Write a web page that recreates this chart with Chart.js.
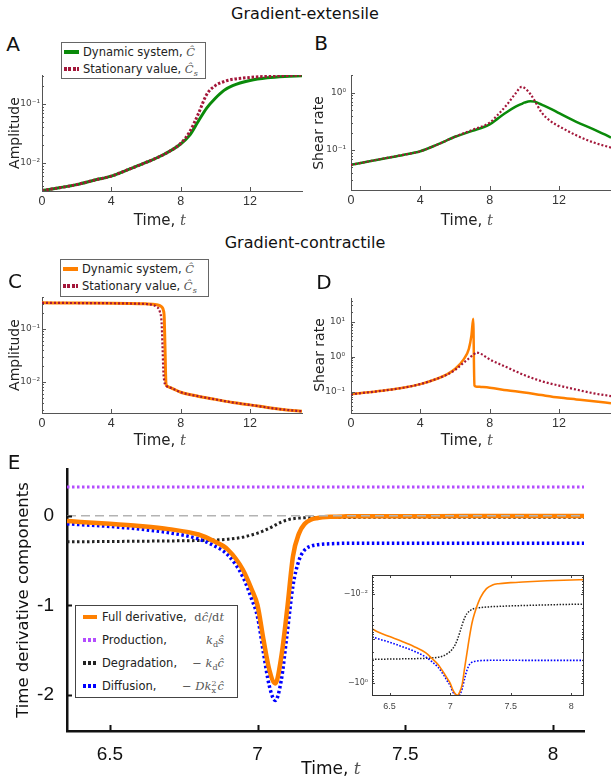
<!DOCTYPE html>
<html>
<head>
<meta charset="utf-8">
<script src="https://cdn.jsdelivr.net/npm/chart.js@4.4.1/dist/chart.umd.min.js"></script>
<style>
  html, body { margin: 0; padding: 0; background: #fff; overflow: hidden; }
  #fig { position: relative; width: 611px; height: 781px; font-family: 'DejaVu Sans', sans-serif; color: #111; }
  #fig canvas { position: absolute; }
  .c { position: absolute; white-space: nowrap; transform: translate(-50%, -50%); z-index: 3; line-height: 1; }
  .rot { transform: translate(-50%, -50%) rotate(-90deg); }
  .title { font-size: 16px; }
  .letter { font-size: 20px; }
  .xl { font-size: 15px; color: #222; }
  .yl { font-size: 14px; color: #222; }
  .m { font-family: 'DejaVu Serif', serif; font-style: italic; color: #555; }
  .r { font-style: normal; }
  sub, sup { line-height: 0; font-size: 70%; }
  .leg { position: absolute; background: #fff; border: 1px solid #666; z-index: 4; font-size: 11.5px; color: #222; }
  .leg .row { position: relative; height: 17px; line-height: 17px; white-space: nowrap; }
  .mk { display: inline-block; width: 15px; height: 4px; vertical-align: middle; margin: 0 4px 2px 2px; }
  .legE .row { height: 23px; line-height: 23px; }
  .legE .mk { width: 14px; margin: 0 5px 2px 7px; }
  .legE .m { position: absolute; right: 13px; top: 0; }
  .ss { display: inline-flex; flex-direction: column; font-size: 8px; line-height: 7px; vertical-align: 4px; font-style: normal; margin-right: 1px; }
</style>
</head>
<body>
<div id="fig">
  <canvas id="cA" width="305" height="166" style="left:0px;top:65px"></canvas>
  <canvas id="cB" width="306" height="166" style="left:305px;top:65px"></canvas>
  <canvas id="cC" width="305" height="168" style="left:0px;top:285px"></canvas>
  <canvas id="cD" width="306" height="168" style="left:305px;top:285px"></canvas>
  <canvas id="cE" width="611" height="321" style="left:0px;top:460px"></canvas>
  <canvas id="cI" width="270" height="160" style="left:330px;top:565px"></canvas>

  <div class="c title" style="left:305px;top:14px">Gradient-extensile</div>
  <div class="c title" style="left:305px;top:243px">Gradient-contractile</div>

  <div class="c letter" style="left:13px;top:44px">A</div>
  <div class="c letter" style="left:321px;top:43px">B</div>
  <div class="c letter" style="left:15px;top:281px">C</div>
  <div class="c letter" style="left:324px;top:282px">D</div>
  <div class="c letter" style="left:14px;top:462px">E</div>

  <div class="c yl rot" style="left:14px;top:133px">Amplitude</div>
  <div class="c yl rot" style="left:318px;top:133px">Shear rate</div>
  <div class="c yl rot" style="left:14px;top:355px">Amplitude</div>
  <div class="c yl rot" style="left:319px;top:355px">Shear rate</div>
  <div class="c rot" style="left:23px;top:600px;font-size:16.5px;color:#111">Time derivative components</div>

  <div class="c xl" style="left:160px;top:220px">Time, <span class="m">t</span></div>
  <div class="c xl" style="left:467px;top:220px">Time, <span class="m">t</span></div>
  <div class="c xl" style="left:160px;top:440px">Time, <span class="m">t</span></div>
  <div class="c xl" style="left:467px;top:440px">Time, <span class="m">t</span></div>
  <div class="c" style="left:331px;top:768px;font-size:17px">Time, <span class="m">t</span></div>

  <div class="leg" style="left:61px;top:42px;width:143px;height:34px;padding-top:1px">
    <div class="row"><span class="mk" style="background:#0a8a0a"></span>Dynamic system, <span class="m">Ĉ</span></div>
    <div class="row"><span class="mk" style="background:repeating-linear-gradient(90deg,#a3173a 0 3px,transparent 3px 4.5px)"></span>Stationary value, <span class="m">Ĉ<sub>s</sub></span></div>
  </div>
  <div class="leg" style="left:60px;top:259px;width:147px;height:35px;padding-top:1px">
    <div class="row"><span class="mk" style="background:#ff8000"></span>Dynamic system, <span class="m">Ĉ</span></div>
    <div class="row"><span class="mk" style="background:repeating-linear-gradient(90deg,#a3173a 0 3px,transparent 3px 4.5px)"></span>Stationary value, <span class="m">Ĉ<sub>s</sub></span></div>
  </div>
  <div class="leg legE" style="left:75px;top:605px;width:161px;height:91px;border-color:#444">
    <div class="row"><span class="mk" style="background:#ff8000"></span>Full derivative, <span class="m"><span class="r">d</span>ĉ<span class="r">/d</span>t</span></div>
    <div class="row"><span class="mk" style="background:repeating-linear-gradient(90deg,#b44dff 0 3px,transparent 3px 5px)"></span>Production,<span class="m">k<sub class="r">d</sub>ŝ</span></div>
    <div class="row"><span class="mk" style="background:repeating-linear-gradient(90deg,#222 0 3px,transparent 3px 5px)"></span>Degradation,<span class="m"><span class="r">−</span> k<sub class="r">d</sub>ĉ</span></div>
    <div class="row"><span class="mk" style="background:repeating-linear-gradient(90deg,#0000ff 0 3px,transparent 3px 5px)"></span>Diffusion,<span class="m"><span class="r">−</span> Dk<span class="ss"><span>2</span><span>x</span></span>ĉ</span></div>
  </div>
</div>

<script>
// ---- panel A: gradient-extensile amplitude ----
var tA = [0, 1, 2, 3, 4, 5, 6, 7, 8, 8.5, 9, 9.5, 10, 10.5, 11, 12, 13, 14, 15];
var ampDynA = [0.0034, 0.0038, 0.0043, 0.0051, 0.006, 0.0078, 0.0102, 0.0138, 0.021, 0.029, 0.05, 0.085, 0.125, 0.17, 0.205, 0.25, 0.278, 0.293, 0.30];
var ampStatA = [0.0034, 0.0038, 0.0043, 0.0051, 0.006, 0.0078, 0.0102, 0.0138, 0.0215, 0.033, 0.066, 0.145, 0.205, 0.24, 0.262, 0.282, 0.295, 0.303, 0.31];

// ---- panel B: gradient-extensile shear rate ----
var tB = [0, 1, 2, 3, 4, 5, 6, 7, 8, 8.5, 9, 9.5, 9.85, 10, 10.35, 10.6, 11, 11.5, 12, 13, 14, 15];
var shearDynB = [0.055, 0.063, 0.072, 0.082, 0.095, 0.125, 0.17, 0.215, 0.28, 0.36, 0.46, 0.57, 0.64, 0.67, 0.71, 0.70, 0.62, 0.53, 0.44, 0.31, 0.23, 0.165];
var shearStatB = [0.055, 0.063, 0.072, 0.082, 0.095, 0.125, 0.17, 0.225, 0.30, 0.42, 0.62, 0.98, 1.27, 1.22, 0.95, 0.72, 0.45, 0.32, 0.26, 0.18, 0.135, 0.11];

// ---- panel C: gradient-contractile amplitude ----
var tC = [0, 2, 4, 5, 6, 6.4, 6.6, 6.8, 6.9, 6.95, 7.0, 7.05, 7.1, 7.15, 7.2, 7.5, 8, 9, 10, 11, 12, 13, 14, 15];
var ampDynC = [0.31, 0.308, 0.305, 0.302, 0.297, 0.293, 0.287, 0.275, 0.262, 0.25, 0.225, 0.17, 0.04, 0.0095, 0.0084, 0.0076, 0.0064, 0.0054, 0.0047, 0.0041, 0.0037, 0.0033, 0.003, 0.0028];
var ampStatC = [0.31, 0.308, 0.305, 0.302, 0.295, 0.282, 0.262, 0.21, 0.13, 0.05, 0.016, 0.0105, 0.009, 0.0086, 0.0083, 0.0076, 0.0064, 0.0054, 0.0047, 0.0041, 0.0037, 0.0033, 0.003, 0.0028];

// ---- panel D: gradient-contractile shear rate ----
var tD = [0, 1, 2, 3, 4, 5, 5.5, 6, 6.5, 6.8, 6.95, 7.05, 7.12, 7.25, 7.5, 8, 9, 10, 11, 12, 13, 14, 15];
var shearDynD = [0.085, 0.096, 0.11, 0.13, 0.165, 0.24, 0.31, 0.45, 0.85, 1.7, 4.2, 12.5, 0.15, 0.14, 0.137, 0.13, 0.11, 0.095, 0.08, 0.068, 0.06, 0.053, 0.047];
var shearStatD = [0.085, 0.096, 0.11, 0.13, 0.165, 0.24, 0.30, 0.42, 0.68, 0.9, 1.05, 1.15, 1.22, 1.33, 1.22, 0.85, 0.5, 0.3, 0.2, 0.15, 0.115, 0.09, 0.075];

// ---- panel E: time derivative components ----
var tE = [6.355, 6.4, 6.5, 6.6, 6.7, 6.8, 6.85, 6.9, 6.95, 6.98, 7.0, 7.02, 7.04, 7.06, 7.08, 7.1, 7.12, 7.14, 7.16, 7.18, 7.2, 7.25, 7.3, 7.35, 7.4, 7.5, 7.6, 7.8, 8.0, 8.105];
var fullDeriv = [-0.06, -0.07, -0.09, -0.115, -0.15, -0.21, -0.28, -0.38, -0.6, -0.82, -1.0, -1.38, -1.72, -1.87, -1.58, -1.05, -0.45, -0.2, -0.09, -0.045, -0.028, -0.012, -0.0075, -0.0062, -0.0058, -0.0055, -0.0053, -0.005, -0.0048, -0.0047];
var degradation = [-0.29, -0.29, -0.288, -0.285, -0.282, -0.277, -0.272, -0.263, -0.24, -0.215, -0.195, -0.17, -0.14, -0.105, -0.072, -0.048, -0.034, -0.027, -0.024, -0.022, -0.021, -0.02, -0.0195, -0.019, -0.0188, -0.0183, -0.018, -0.0174, -0.0169, -0.0167];
var diffusion = [-0.09, -0.10, -0.12, -0.15, -0.19, -0.26, -0.33, -0.44, -0.68, -0.93, -1.13, -1.53, -1.9, -2.06, -1.84, -1.32, -0.78, -0.5, -0.38, -0.34, -0.325, -0.312, -0.308, -0.307, -0.307, -0.3072, -0.3073, -0.3076, -0.3079, -0.308];
var tProd = [6.355, 8.105];
var production = [0.32, 0.32];

var tickTime = [0, 4, 8, 12];
var tickTimeE = [6.5, 7, 7.5, 8];
var tickE = [-2, -1, 0];
var insetLabels = [0.01, 1];

var RED = '#a3173a', GREEN = '#0a8a0a', ORANGE = '#ff8000';
var SUP = {'-': '⁻', '0': '⁰', '1': '¹', '2': '²', '3': '³', '4': '⁴', '5': '⁵', '6': '⁶', '7': '⁷', '8': '⁸', '9': '⁹'};
var NOGRID = {display: false, drawTicks: false};

function sup(n) {
  return String(n).split('').map(function(c) { return SUP[c]; }).join('');
}
function pts(t, v) {
  return t.map(function(x, i) { return {x: x, y: v[i]}; });
}
function plain(v) {
  return String(v);
}
function logTicks(lo, hi) {
  var out = [];
  for (var k = Math.floor(Math.log10(lo)); k <= Math.ceil(Math.log10(hi)); k++) {
    for (var m = 1; m < 10; m++) {
      var v = m * Math.pow(10, k);
      if (v >= lo * 0.999 && v <= hi * 1.001) out.push({value: v, major: m === 1});
    }
  }
  return out;
}
function fixedTicks(list) {
  return function(s) { s.ticks = list.map(function(v) { return {value: v, major: true}; }); };
}
// pin the axis box size and drop the label overhang padding, so the plot area sits where we put it
function pinSize(size) {
  return function(s) {
    if (s.isHorizontal()) s.height = size; else s.width = size;
    s.paddingTop = 0; s.paddingBottom = 0; s.paddingLeft = 0; s.paddingRight = 0;
  };
}

// ticks drawn inside the axes, like the original figure
var innerTicks = {
  id: 'innerTicks',
  afterDraw: function(chart, args, opts) {
    var ctx = chart.ctx, a = chart.chartArea;
    ctx.save();
    ctx.strokeStyle = opts.color;
    ctx.lineWidth = opts.width;
    Object.keys(chart.scales).forEach(function(id) {
      var s = chart.scales[id], cfg = opts[id];
      if (!cfg) return;
      s.ticks.forEach(function(tk) {
        var len = tk.major ? cfg.len : cfg.minor;
        var p = Math.round(s.getPixelForValue(tk.value)) + 0.5;
        ctx.beginPath();
        if (s.isHorizontal()) {
          ctx.moveTo(p, a.bottom); ctx.lineTo(p, a.bottom - len);
          if (cfg.mirror) { ctx.moveTo(p, a.top); ctx.lineTo(p, a.top + len); }
        } else {
          ctx.moveTo(a.left, p); ctx.lineTo(a.left + len, p);
          if (cfg.mirror) { ctx.moveTo(a.right, p); ctx.lineTo(a.right - len, p); }
        }
        ctx.stroke();
      });
    });
    if (opts.frame) {
      ctx.strokeStyle = opts.frame;
      ctx.lineWidth = 1;
      ctx.strokeRect(a.left + 0.5, a.top + 0.5, a.right - a.left - 1, a.bottom - a.top - 1);
    }
    ctx.restore();
  },
  beforeDraw: function(chart, args, opts) {
    if (!opts.fill) return;
    var a = chart.chartArea;
    chart.ctx.save();
    chart.ctx.fillStyle = opts.fill;
    chart.ctx.fillRect(a.left, a.top, a.right - a.left, a.bottom - a.top);
    chart.ctx.restore();
  }
};
Chart.register(innerTicks);

function logPanel(id, t, dyn, stat, o) {
  var yt = logTicks(o.ymin, o.ymax);
  return new Chart(document.getElementById(id), {
    type: 'line',
    data: {
      datasets: [
        {data: pts(t, stat), borderColor: RED, borderWidth: o.statWidth, borderDash: o.statDash, order: 0},
        {data: pts(t, dyn), borderColor: o.color, borderWidth: o.dynWidth, order: 1}
      ]
    },
    options: {
      responsive: false, animation: false, devicePixelRatio: 1,
      layout: {padding: {top: o.top, right: o.right, left: 0, bottom: 0}},
      elements: {point: {radius: 0}, line: {cubicInterpolationMode: 'monotone', fill: false}},
      plugins: {
        legend: {display: false}, tooltip: {enabled: false},
        innerTicks: {color: '#555', width: 1, x: {len: 4, minor: 4}, y: {len: 4, minor: 2}}
      },
      scales: {
        x: {
          type: 'linear', min: 0, max: 15, bounds: 'data',
          afterFit: pinSize(o.xh),
          afterBuildTicks: fixedTicks(tickTime),
          grid: NOGRID,
          border: {display: true, color: '#555', width: 1},
          ticks: {autoSkip: false, maxRotation: 0, padding: 3, color: '#333', callback: plain,
                  font: {family: 'Liberation Sans', size: 12.5}}
        },
        y: {
          type: 'logarithmic', min: o.ymin, max: o.ymax, bounds: 'data',
          afterFit: pinSize(o.yw),
          afterBuildTicks: function(s) { s.ticks = yt; },
          grid: NOGRID,
          border: {display: true, color: '#555', width: 1},
          ticks: {
            autoSkip: false, padding: o.ypad, color: '#444',
            font: {family: 'DejaVu Sans', size: 9},
            callback: function(v, i, ticks) {
              return ticks[i].major ? '10' + sup(Math.round(Math.log10(v))) : '';
            }
          }
        }
      }
    }
  });
}

logPanel('cA', tA, ampDynA, ampStatA, {
  ymin: 0.00335, ymax: 0.31, color: GREEN, dynWidth: 3, statWidth: 3, statDash: [2.5, 1.8],
  top: 10, right: 3, xh: 40, yw: 42, ypad: 2
});
logPanel('cB', tB, shearDynB, shearStatB, {
  ymin: 0.02, ymax: 2.04, color: GREEN, dynWidth: 2.5, statWidth: 2.2, statDash: [2, 2],
  top: 10, right: 0, xh: 41, yw: 46, ypad: 5
});
logPanel('cC', tC, ampDynC, ampStatC, {
  ymin: 0.0026, ymax: 0.40, color: ORANGE, dynWidth: 3, statWidth: 2.2, statDash: [2, 2],
  top: 12, right: 3, xh: 40, yw: 42, ypad: 2
});
logPanel('cD', tD, shearDynD, shearStatD, {
  ymin: 0.0245, ymax: 49, color: ORANGE, dynWidth: 2.5, statWidth: 2.2, statDash: [2, 2],
  top: 13, right: 0, xh: 40, yw: 46, ypad: 6
});

// main panel E
new Chart(document.getElementById('cE'), {
  type: 'line',
  data: {
    datasets: [
      {data: [{x: tProd[0], y: 0}, {x: tProd[1], y: 0}], borderColor: '#b3b3b3', borderWidth: 1.5, borderDash: [9, 5], order: 0},
      {data: pts(tE, fullDeriv), borderColor: ORANGE, borderWidth: 4.5, order: 1},
      {data: pts(tE, diffusion), borderColor: '#0000ff', borderWidth: 3.5, borderDash: [2.5, 2.5], order: 2},
      {data: pts(tE, degradation), borderColor: '#222', borderWidth: 3, borderDash: [2.5, 2.5], order: 3},
      {data: pts(tProd, production), borderColor: '#b44dff', borderWidth: 3, borderDash: [2.5, 2.5], order: 4}
    ]
  },
  options: {
    responsive: false, animation: false, devicePixelRatio: 1,
    layout: {padding: {top: 9, right: 27, left: 0, bottom: 0}},
    elements: {point: {radius: 0}, line: {cubicInterpolationMode: 'monotone', fill: false}},
    plugins: {
      legend: {display: false}, tooltip: {enabled: false},
      innerTicks: {color: '#111', width: 2, x: {len: 6, minor: 6}, y: {len: 5, minor: 5}}
    },
    scales: {
      x: {
        type: 'linear', min: 6.355, max: 8.105, bounds: 'data',
        afterFit: pinSize(50),
        afterBuildTicks: fixedTicks(tickTimeE),
        grid: NOGRID,
        border: {display: true, color: '#111', width: 2.5},
        ticks: {autoSkip: false, maxRotation: 0, padding: 12, color: '#111', callback: plain,
                font: {family: 'Liberation Sans', size: 19}}
      },
      y: {
        type: 'linear', min: -2.4, max: 0.52, bounds: 'data',
        afterFit: pinSize(67),
        afterBuildTicks: fixedTicks(tickE),
        grid: NOGRID,
        border: {display: true, color: '#111', width: 2.5},
        ticks: {autoSkip: false, padding: 13, color: '#111', callback: plain,
                font: {family: 'Liberation Sans', size: 19}}
      }
    }
  }
});

// inset: magnitudes on a reversed log axis (labelled as negative powers)
var insetTicks = logTicks(0.0037, 1.95);
new Chart(document.getElementById('cI'), {
  type: 'line',
  data: {
    datasets: [
      {data: pts(tE, fullDeriv.map(Math.abs)), borderColor: ORANGE, borderWidth: 1.6, order: 0},
      {data: pts(tE, diffusion.map(Math.abs)), borderColor: '#0000ff', borderWidth: 1.6, borderDash: [1.6, 1.6], order: 1},
      {data: pts(tE, degradation.map(Math.abs)), borderColor: '#222', borderWidth: 1.5, borderDash: [1.5, 1.5], order: 2}
    ]
  },
  options: {
    responsive: false, animation: false, devicePixelRatio: 1,
    layout: {padding: {top: 10, right: 16, left: 0, bottom: 0}},
    elements: {point: {radius: 0}, line: {cubicInterpolationMode: 'monotone', fill: false}},
    plugins: {
      legend: {display: false}, tooltip: {enabled: false},
      innerTicks: {color: '#444', width: 1, fill: '#fff', frame: '#333',
                   x: {len: 3, minor: 3, mirror: true}, y: {len: 3, minor: 2, mirror: true}}
    },
    scales: {
      x: {
        type: 'linear', min: 6.355, max: 8.105, bounds: 'data',
        afterFit: pinSize(29),
        afterBuildTicks: fixedTicks(tickTimeE),
        grid: NOGRID,
        border: {display: false},
        ticks: {autoSkip: false, maxRotation: 0, padding: 5, color: '#444', callback: plain,
                font: {family: 'Liberation Sans', size: 9}}
      },
      y: {
        type: 'logarithmic', reverse: true, min: 0.0037, max: 1.95, bounds: 'data',
        afterFit: pinSize(42),
        afterBuildTicks: function(s) { s.ticks = insetTicks; },
        grid: NOGRID,
        border: {display: false},
        ticks: {
          autoSkip: false, padding: 4, color: '#444',
          font: {family: 'DejaVu Sans', size: 8},
          callback: function(v) {
            var hit = insetLabels.some(function(l) { return Math.abs(l - v) < l * 1e-6; });
            return hit ? '−10' + sup(Math.round(Math.log10(v))) : '';
          }
        }
      }
    }
  }
});
</script>
</body>
</html>
